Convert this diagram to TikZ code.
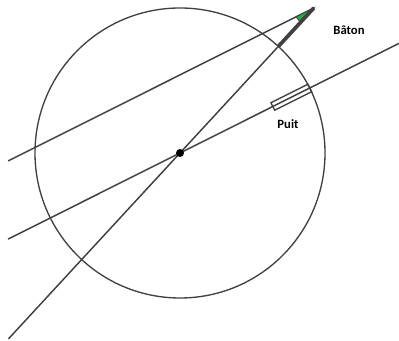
\documentclass[tikz,border=0pt]{standalone}
\usepackage{fontspec}
\setmainfont{Carlito}
\usetikzlibrary{calc}
\definecolor{trait}{HTML}{404040}
\definecolor{ombre}{RGB}{40,170,70}

\begin{document}
\begin{tikzpicture}[x=0.75pt,y=0.75pt,font=\fontsize{9.5}{11}\selectfont\bfseries,
  rayon/.style={draw=trait,line width=1.1pt},
  baton/.style={draw=trait,line width=2.8pt},
  lbl/.style={inner sep=1pt}]
\useasboundingbox (0,0) rectangle (399,341);
\coordinate (O) at (180,188);
\coordinate (T) at ($(O)+(47.3:197.5)$);
\coordinate (S) at ($(O)+(47.3:145)$);
\coordinate (A1) at ($(O)+(227.3:253)$);
\coordinate (A2) at ($(O)+(206.6:192.3)$);
\coordinate (B2) at ($(O)+(26.6:244.8)$);
\coordinate (A3) at ($(T)+(206.6:342)$);
% terre et rayons
\draw[trait,line width=1pt] (O) circle (145);
\draw[rayon] (A1) -- (T);
\draw[rayon] (A2) -- (B2);
\draw[rayon] (A3) -- (T);
% ombre du baton
\fill[ombre,draw=trait,line width=0.6pt] (T) -- ($(T)+(206.6:20)$) -- ($(T)+(227.3:20)$) -- cycle;
\draw[baton] (S) -- (T);
\node[draw=trait,line width=1pt,rotate=26.6,minimum width=31pt,minimum height=6.3pt,inner sep=0pt]
  (puit) at ($(O)+(26.6:124.5)$) {};
\fill (O) circle (4);
\node[lbl] (lbaton) at (349,311) {Bâton};
\node[lbl] (lpuit) at (288,217) {Puit};
\end{tikzpicture}
\end{document}
